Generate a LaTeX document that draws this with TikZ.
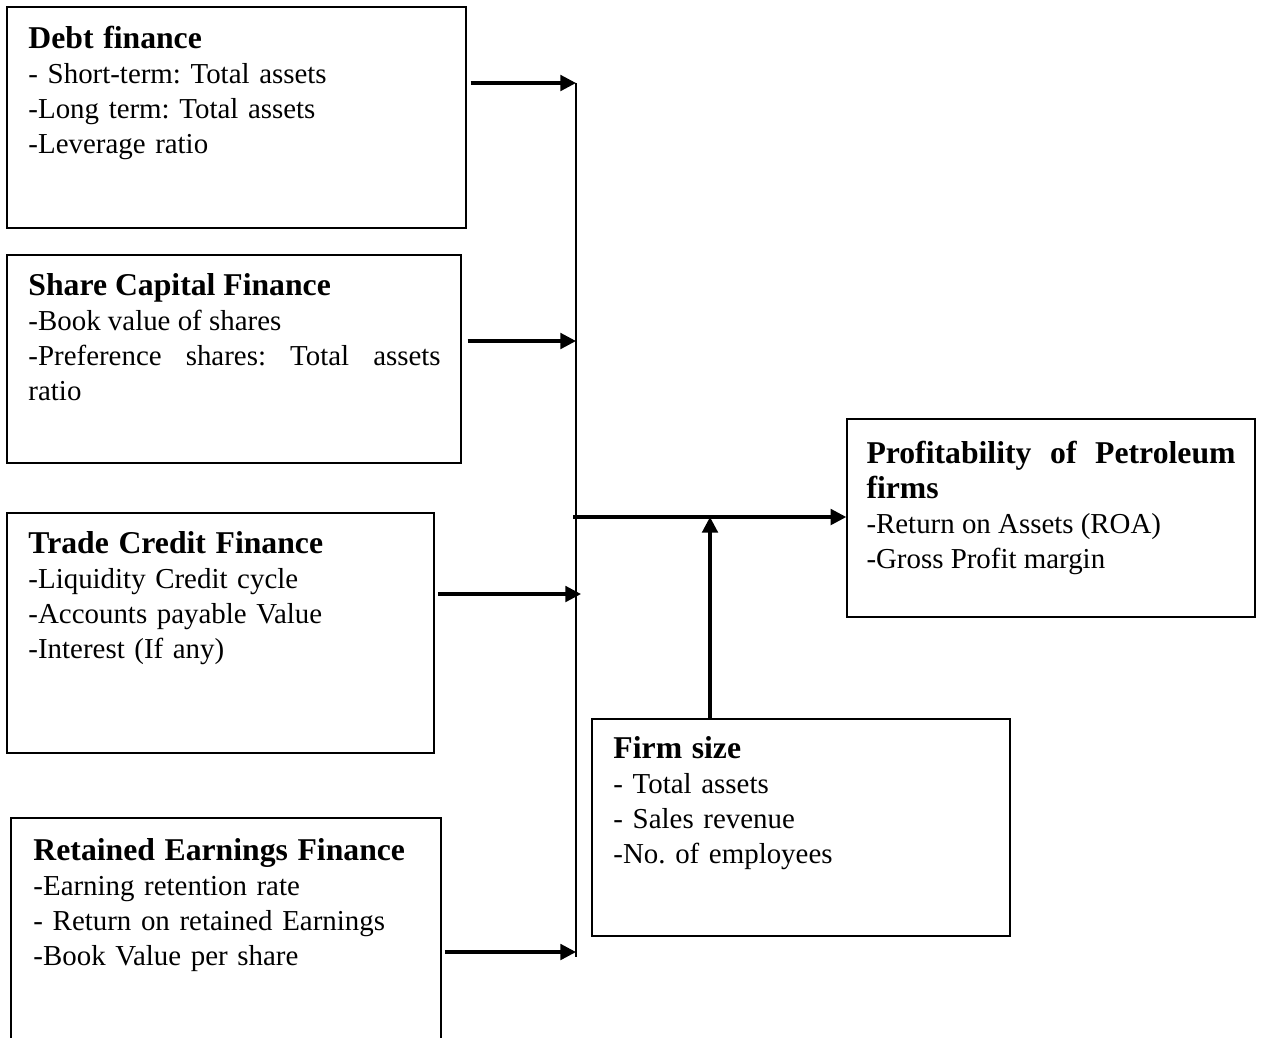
\documentclass[tikz,border=0pt]{standalone}
\usepackage{fontspec}
\setmainfont{Liberation Serif}
\usetikzlibrary{arrows.meta,fit,positioning}

\tikzset{
  box/.style={draw, line width=0.6pt, inner sep=0pt},
  txt/.style={anchor=base west, inner sep=0pt, align=left,
    font=\fontsize{11.85}{14.35}\selectfont\frenchspacing},
  jtxt/.style={txt, align=justify},
  arr/.style={-{Triangle[length=6.4pt,width=6.4pt]}, line width=1.3pt},
}
\newcommand{\hd}[1]{{\fontsize{13}{14.35}\selectfont\bfseries #1}}

\begin{document}
\begin{tikzpicture}[x=0.41pt,y=-0.41pt]
	\useasboundingbox[fill=white] (0,0) rectangle (1261,1037);
	% boxes
	\node[box, fit={(7,7) (466,228)}] (debt) {};
	\node[box, fit={(7,255) (461,463)}] (share) {};
	\node[box, fit={(7,513) (434,753)}] (trade) {};
	\node[box, fit={(11,818) (441,1045)}] (retained) {};
	\node[box, fit={(847,419) (1255,617)}] (profit) {};
	\node[box, fit={(592,719) (1010,936)}] (firm) {};
	% texts
	\node[txt, text width=172pt] (debttxt) at (28,48)
		{\hd{Debt finance}\\ - Short-term: Total assets\\ -Long term: Total assets\\ -Leverage ratio};
	\node[jtxt, text width=169pt] (sharetxt) at (28,295)
		{\hd{Share Capital Finance}\\ -Book value of shares\\ -Preference shares: Total assets\linebreak ratio};
	\node[txt, text width=160pt] (tradetxt) at (28,553)
		{\hd{Trade Credit Finance}\\ -Liquidity Credit cycle\\ -Accounts payable Value\\ -Interest (If any)};
	\node[txt, text width=164pt] (rettxt) at (33,860)
		{\hd{Retained Earnings Finance}\\ -Earning retention rate\\ - Return on retained Earnings\\ -Book Value per share};
	\node[jtxt, text width=151.3pt] (profittxt) at (866,463)
		{\hd{Profitability of Petroleum\linebreak firms}\\ -Return on Assets (ROA)\\ -Gross Profit margin};
	\node[txt, text width=156pt] (firmtxt) at (613,758)
		{\hd{Firm size}\\ - Total assets\\ - Sales revenue\\ -No. of employees};
	% connectors
	\coordinate (bustop) at (576,83);
	\coordinate (busbot) at (576,957);
	\coordinate (b2) at (576,341);
	\coordinate (b3) at (581,594);
	\coordinate (b4) at (576,952);
	\coordinate (join) at (573,517);
	\coordinate (hub) at (710,517);
	\draw[line width=0.9pt] (bustop) -- (busbot);
	\draw[arr, shorten <=1.6pt] (debt.east |- bustop) -- (bustop);
	\draw[arr, shorten <=2.4pt] (share.east |- b2) -- (b2);
	\draw[arr, shorten <=1.3pt] (trade.east |- b3) -- (b3);
	\draw[arr, shorten <=1.3pt] (retained.east |- b4) -- (b4);
	\draw[arr] (join) -- (join -| profit.west);
	\draw[arr] (hub |- firm.north) -- (hub);
\end{tikzpicture}
\end{document}
